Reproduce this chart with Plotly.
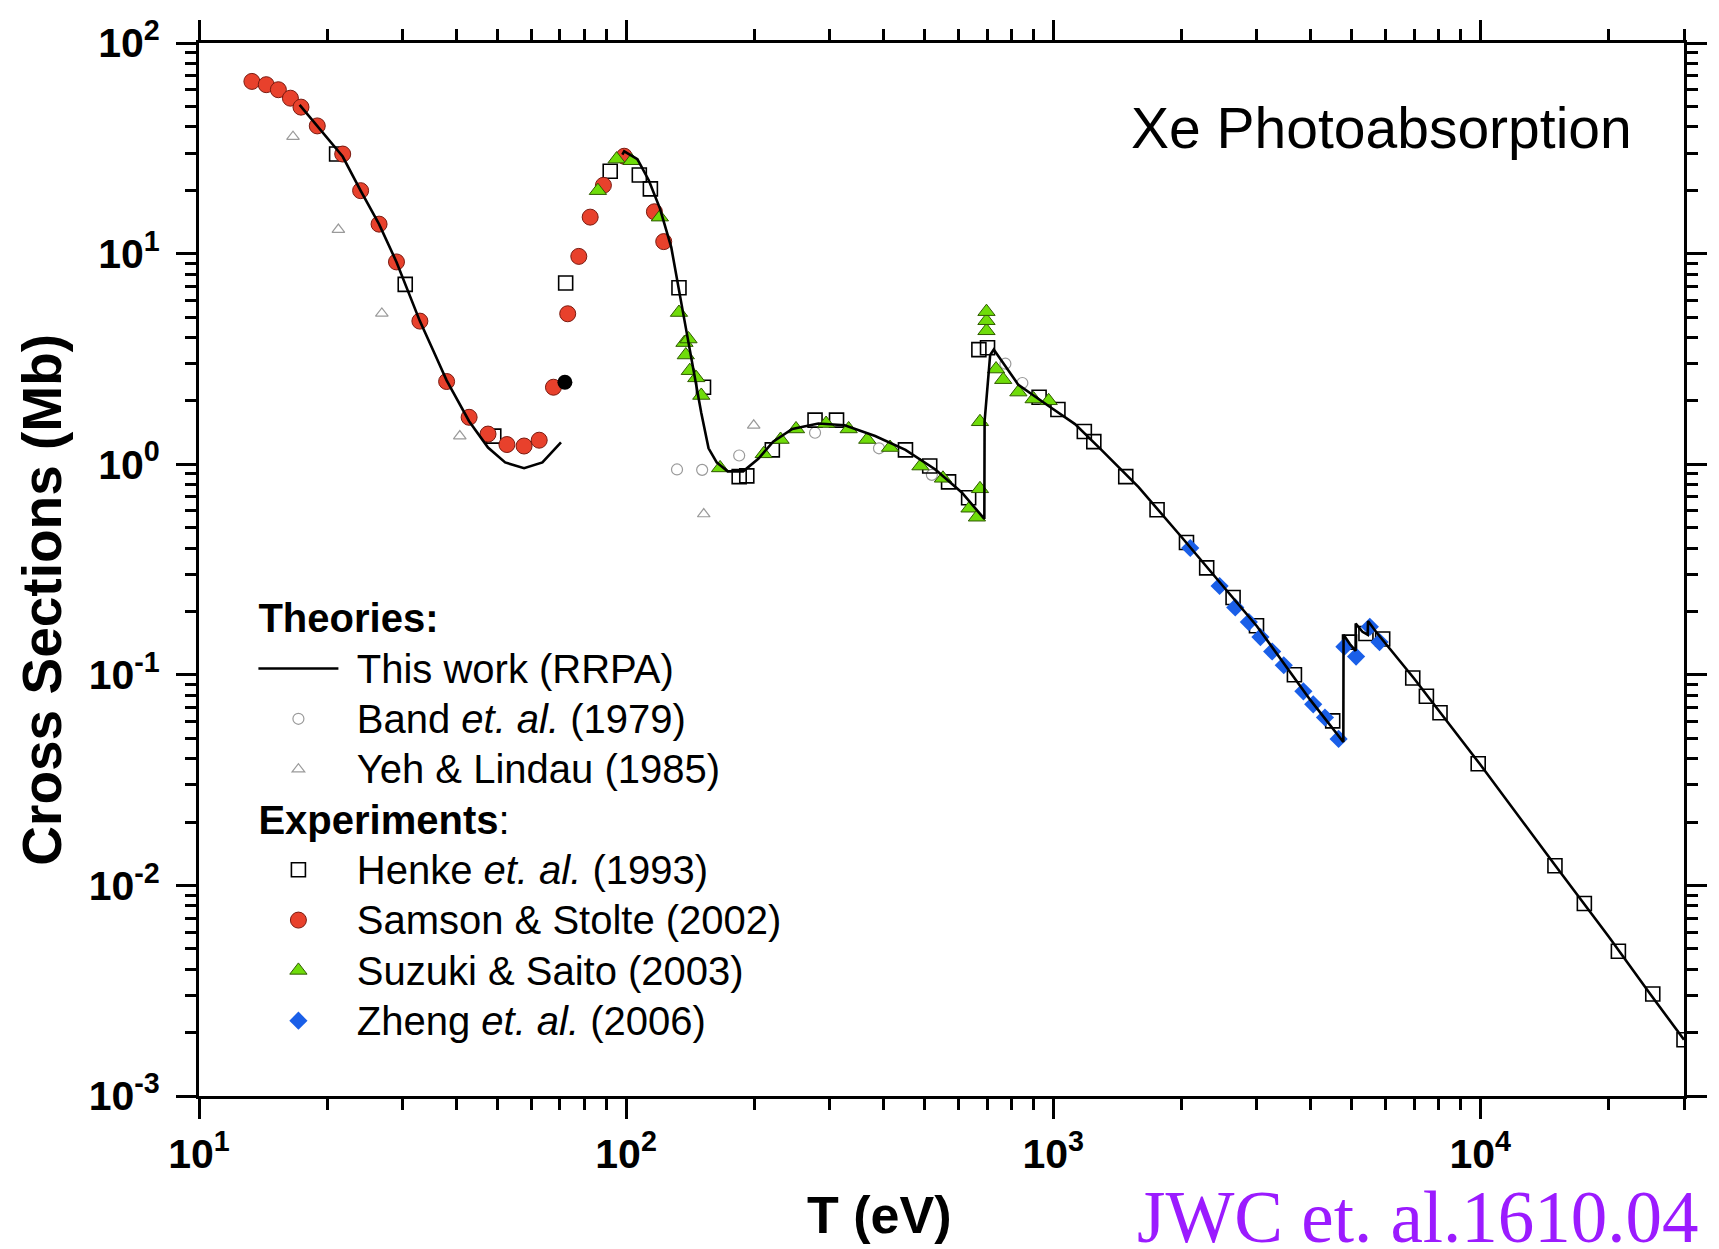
import plotly.graph_objects as go

# ---------------- data ----------------
rrpa_T = [17.2, 18.9, 20.0, 21.7, 23.9, 26.4, 29.0, 30.4, 32.9, 35.5, 38.0, 42.9, 47.5, 52.1, 57.7, 63.7, 70.4,
          None,
          98, 99, 106.3, 113, 120, 127.6, 135.7, 144, 150, 156, 163, 173, 188, 204, 221, 245, 282, 325, 383, 451,
          530, 611, 690, 691, 712, 726, 829, 976, 1125, 1297, 1585, 2000, 3000, 4000, 4780, 4786, 4950, 5107,
          5110, 5300, 5453, 5460, 5700, 7000, 10000, 15000, 20000, 25000, 30000]
rrpa_sigma = [50.8, 40.4, 35.5, 28.9, 19.9, 13.8, 9.13, 7.14, 4.78, 3.4, 2.50, 1.60, 1.20, 1.02, 0.957, 1.02, 1.27,
              None,
              29.5, 30.6, 28.1, 22.3, 16.4, 10.7, 5.36, 2.78, 1.75, 1.19, 1.02, 0.925, 0.925, 1.06, 1.28, 1.47, 1.56,
              1.53, 1.36, 1.17, 0.944, 0.734, 0.55, 1.6, 3.3, 3.5, 2.38, 1.89, 1.55, 1.17, 0.778, 0.45, 0.17, 0.076,
              0.048, 0.155, 0.14, 0.13, 0.175, 0.16, 0.155, 0.18, 0.16, 0.096, 0.0375, 0.0124, 0.0057, 0.00305,
              0.00185]

band_T = [131.6, 150.7, 184, 277, 391, 520, 773, 847]
band_sigma = [0.944, 0.94, 1.10, 1.41, 1.19, 0.89, 3.0, 2.43]

yeh_T = [16.6, 21.2, 26.8, 40.8, 152, 199]
yeh_sigma = [35.9, 13.0, 5.2, 1.36, 0.58, 1.53]

henke_T = [21.0, 30.4, 49.0, 72.2, 91.8, 107.4, 114, 133, 151.8, 184, 191.7, 220, 277, 311, 451, 514, 569, 634,
           670, 702, 927, 1026, 1183, 1245, 1479, 1751, 2052, 2288, 2638, 2993, 3672, 4514, 4942, 5400, 5910,
           6950, 7480, 8050, 9890, 14960, 17530, 21060, 25350, 30000]
henke_sigma = [29.7, 7.14, 1.36, 7.25, 24.6, 23.6, 20.3, 6.88, 2.32, 0.873, 0.88, 1.17, 1.62, 1.62, 1.17, 0.98,
               0.824, 0.693, 3.50, 3.57, 2.08, 1.82, 1.43, 1.28, 0.873, 0.608, 0.425, 0.322, 0.233, 0.171, 0.10,
               0.0604, 0.143, 0.157, 0.148, 0.0965, 0.0791, 0.066, 0.0378, 0.0124, 0.0082, 0.00487, 0.00305,
               0.00185]

samson_T = [13.3, 14.37, 15.34, 16.37, 17.33, 18.92, 21.7, 23.9, 26.4, 29.0, 32.9, 38.0, 42.9, 47.5, 52.6, 57.7,
            62.6, 67.6, 73.0, 77.5, 82.4, 88.5, 99, 116.5, 122.5]
samson_sigma = [65.7, 63.4, 60.0, 54.7, 49.6, 40.4, 29.7, 19.9, 13.8, 9.13, 4.78, 2.47, 1.67, 1.39, 1.24, 1.22,
                1.30, 2.32, 5.18, 9.7, 14.9, 21.1, 29.0, 15.8, 11.4]

extra_T = [71.9]
extra_sigma = [2.45]

suzuki_T = [85.9, 95, 103, 120, 133, 137, 140, 138, 141, 146, 150, 166, 210, 230, 250, 294, 332, 367, 415, 489,
            552, 637, 663, 674, 674, 698, 698, 698, 735, 764, 829, 900, 976]
suzuki_sigma = [19.9, 28.1, 27.6, 14.9, 5.25, 3.78, 3.93, 3.30, 2.78, 2.57, 2.12, 0.96, 1.12, 1.31, 1.47, 1.56,
                1.47, 1.31, 1.20, 0.98, 0.857, 0.618, 0.56, 0.764, 1.59, 4.3, 4.8, 5.3, 2.83, 2.52, 2.20, 2.04,
                2.00]

zheng_T = [2094, 2453, 2669, 2872, 3057, 3257, 3467, 3854, 4064, 4329, 4660, 4808, 5120, 5514, 5810]
zheng_sigma = [0.40, 0.264, 0.209, 0.178, 0.151, 0.129, 0.111, 0.0835, 0.0724, 0.0627, 0.0496, 0.136, 0.122,
               0.169, 0.143]

x_tickvals = [10, 100, 1000, 10000]
x_ticktext = ["10<sup>1</sup>", "10<sup>2</sup>", "10<sup>3</sup>", "10<sup>4</sup>"]
y_tickvals = [1e-3, 1e-2, 1e-1, 1, 10, 100]
y_ticktext = ["10<sup>-3</sup>", "10<sup>-2</sup>", "10<sup>-1</sup>", "10<sup>0</sup>", "10<sup>1</sup>",
              "10<sup>2</sup>"]
x_minor = [m * 10 ** k for k in range(1, 5) for m in range(2, 10)]
y_minor = [m * 10 ** k for k in range(-3, 2) for m in range(2, 10)]

FONT = "Liberation Sans, Arial, sans-serif"
GAP = "\u2004"


def lg(txt):
    # legend label: glyphs at 40px while the row pitch follows the legend font size
    return '<span style="font-size:40px">' + GAP + txt + '</span>'


def lgt(txt):
    return '<span style="font-size:40px">' + txt + '</span>'


fig = go.Figure()

fig.add_trace(go.Scatter(x=band_T, y=band_sigma, mode="markers", name=lg("Band <i>et. al.</i> (1979)"),
                         legendgroup="theo", legendgrouptitle=dict(text=lgt("<b>Theories:</b>")), legendrank=2,
                         marker=dict(symbol="circle-open", size=11, color="#9a9a9a", line=dict(width=1.2))))
fig.add_trace(go.Scatter(x=yeh_T, y=yeh_sigma, mode="markers", name=lg("Yeh & Lindau (1985)"),
                         legendgroup="theo", legendrank=3,
                         marker=dict(symbol="triangle-up-open", size=11, color="#9a9a9a", line=dict(width=1.2))))
fig.add_trace(go.Scatter(x=henke_T, y=henke_sigma, mode="markers", name=lg("Henke <i>et. al.</i> (1993)"),
                         legendgroup="exp", legendgrouptitle=dict(text=lgt("<b>Experiments</b>:")), legendrank=4,
                         marker=dict(symbol="square-open", size=14, color="black", line=dict(width=1.6))))
fig.add_trace(go.Scatter(x=samson_T, y=samson_sigma, mode="markers", name=lg("Samson & Stolte (2002)"),
                         legendgroup="exp", legendrank=5,
                         marker=dict(symbol="circle", size=16, color="#e8412c",
                                     line=dict(width=1, color="#7a1a10"))))
fig.add_trace(go.Scatter(x=suzuki_T, y=suzuki_sigma, mode="markers", name=lg("Suzuki & Saito (2003)"),
                         legendgroup="exp", legendrank=6,
                         marker=dict(symbol="triangle-up", size=15, color="#6fdc0a",
                                     line=dict(width=1, color="#2f5a00"))))
fig.add_trace(go.Scatter(x=zheng_T, y=zheng_sigma, mode="markers", name=lg("Zheng <i>et. al.</i> (2006)"),
                         legendgroup="exp", legendrank=7,
                         marker=dict(symbol="diamond", size=14, color="#1a5fe8", line=dict(width=0))))
fig.add_trace(go.Scatter(x=extra_T, y=extra_sigma, mode="markers", showlegend=False,
                         marker=dict(symbol="circle", size=15, color="black")))
fig.add_trace(go.Scatter(x=rrpa_T, y=rrpa_sigma, mode="lines", name=lg("This work (RRPA)"),
                         legendgroup="theo", legendrank=1, connectgaps=False,
                         line=dict(color="black", width=2.6)))

axis_common = dict(
    type="log", showline=True, linecolor="black", linewidth=3, mirror="allticks",
    ticks="outside", ticklen=20, tickwidth=3, tickcolor="black",
    showgrid=False, zeroline=False,
    tickfont=dict(family=FONT, size=41, color="black", weight="bold"),
    tickmode="array",
)

fig.update_xaxes(**axis_common, range=[1, 4.4771], tickvals=x_tickvals, ticktext=x_ticktext,
                 minor=dict(tickmode="array", tickvals=x_minor, ticks="outside", ticklen=11, tickwidth=2.5,
                            tickcolor="black", showgrid=False))
fig.update_yaxes(**axis_common, range=[-3, 2], tickvals=y_tickvals, ticktext=y_ticktext,
                 ticklabelstandoff=8,
                 minor=dict(tickmode="array", tickvals=y_minor, ticks="outside", ticklen=11, tickwidth=2.5,
                            tickcolor="black", showgrid=False))

W, H = 1719, 1249
L, R, T, B = 199, 19, 43, 153
pw, ph = W - L - R, H - T - B


def px_x(p):
    return (p - L) / pw


def px_y(p):
    return (H - B - p) / ph


fig.update_layout(
    width=W, height=H,
    margin=dict(l=L, r=R, t=T, b=B, pad=0),
    paper_bgcolor="white", plot_bgcolor="white",
    font=dict(family=FONT, color="black"),
    showlegend=True,
    legend=dict(x=px_x(254), y=px_y(588), xanchor="left", yanchor="top",
                bgcolor="rgba(0,0,0,0)", borderwidth=0,
                font=dict(family=FONT, size=36.4, color="black"),
                grouptitlefont=dict(family=FONT, size=36.4, color="black"),
                traceorder="grouped", tracegroupgap=0, itemwidth=80, itemsizing="trace"),
    annotations=[
        dict(text="Xe Photoabsorption", x=px_x(1649), y=px_y(128), xref="paper", yref="paper",
             xanchor="right", yanchor="middle", showarrow=False,
             font=dict(family=FONT, size=57, color="black")),
        dict(text="<b>Cross Sections (Mb)</b>", x=px_x(40), y=px_y(600), xref="paper", yref="paper",
             xanchor="center", yanchor="middle", showarrow=False, textangle=-90,
             font=dict(family=FONT, size=55, color="black")),
        dict(text="<b>T (eV)</b>", x=px_x(886), y=px_y(1215), xref="paper", yref="paper",
             xanchor="center", yanchor="middle", showarrow=False,
             font=dict(family=FONT, size=52, color="black")),
        dict(text="JWC et. al.1610.04", x=px_x(1145), y=px_y(1217), xref="paper", yref="paper",
             xanchor="left", yanchor="middle", showarrow=False,
             font=dict(family="Liberation Serif, Times New Roman, serif", size=73, color="#9b1bff")),
    ],
)

fig.write_html("out.html")
